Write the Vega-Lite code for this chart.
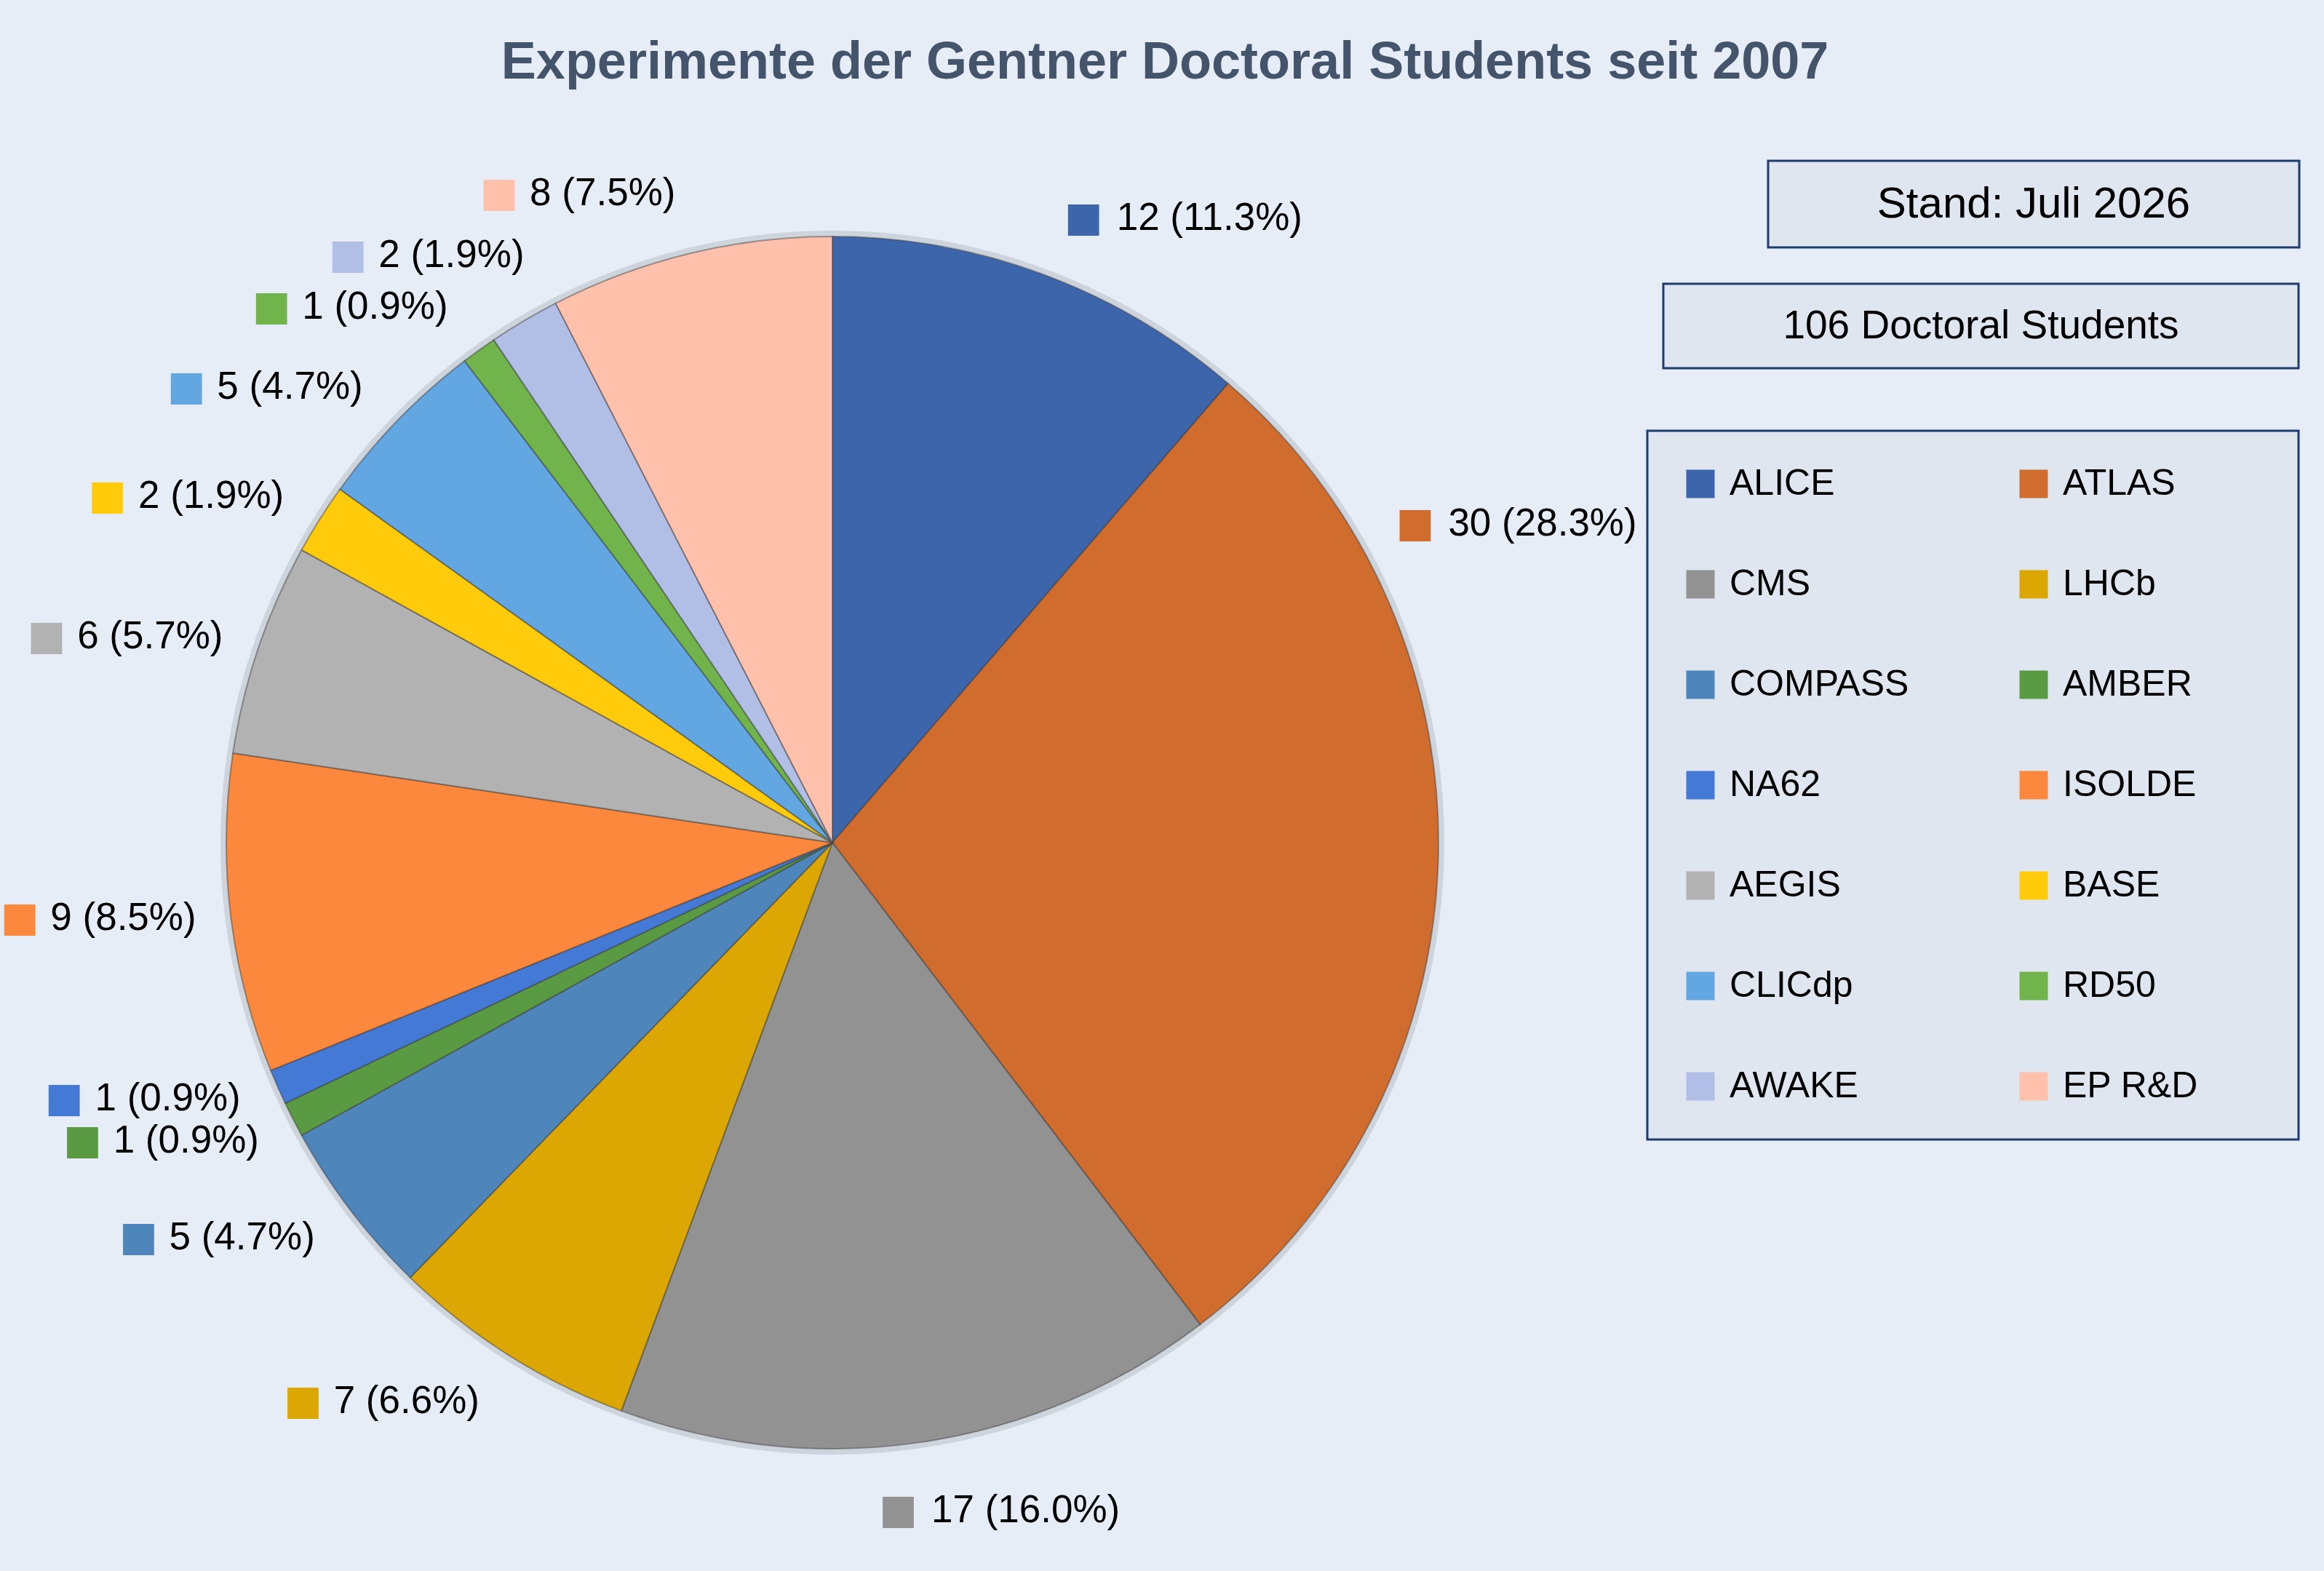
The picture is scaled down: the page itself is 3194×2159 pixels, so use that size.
{
  "$schema": "https://vega.github.io/schema/vega-lite/v6.json",
  "background": "#E6EDF7",
  "padding": {"left": 0, "top": 49, "right": 33, "bottom": 66},
  "bounds": "flush",
  "spacing": 0,
  "title": {
    "text": "Experimente der Gentner Doctoral Students seit 2007",
    "font": "Liberation Sans",
    "fontSize": 72,
    "fontWeight": "bold",
    "color": "#44546A",
    "anchor": "middle",
    "baseline": "alphabetic",
    "offset": 40,
    "dx": 20
  },
  "config": {
    "view": {"stroke": null},
    "font": "Liberation Sans",
    "legend": {"strokeWidth": 3}
  },
  "datasets": {
    "experiments": [
      {"exp": "ALICE", "n": 12},
      {"exp": "ATLAS", "n": 30},
      {"exp": "CMS", "n": 17},
      {"exp": "LHCb", "n": 7},
      {"exp": "COMPASS", "n": 5},
      {"exp": "AMBER", "n": 1},
      {"exp": "NA62", "n": 1},
      {"exp": "ISOLDE", "n": 9},
      {"exp": "AEGIS", "n": 6},
      {"exp": "BASE", "n": 2},
      {"exp": "CLICdp", "n": 5},
      {"exp": "RD50", "n": 1},
      {"exp": "AWAKE", "n": 2},
      {"exp": "EP R&D", "n": 8}
    ]
  },
  "hconcat": [
    {
      "width": 2284,
      "height": 1874,
      "data": {"name": "experiments"},
      "transform": [
        {"window": [{"op": "row_number", "as": "idx"}]},
        {"joinaggregate": [{"op": "sum", "field": "n", "as": "total"}]},
        {"calculate": "datum.n + ' (' + format(datum.n / datum.total, '.1%') + ')'", "as": "label"}
      ],
      "layer": [
        {
          "transform": [{"aggregate": [{"op": "sum", "field": "n", "as": "n"}]}],
          "mark": {"type": "arc", "outerRadius": 841, "fill": "#7a7a7a", "opacity": 0.22},
          "encoding": {"theta": {"field": "n", "type": "quantitative"}}
        },
        {
          "mark": {"type": "arc", "outerRadius": 833, "stroke": "#3a3a3a", "strokeOpacity": 0.45, "strokeWidth": 2},
          "encoding": {
            "theta": {"field": "n", "type": "quantitative", "stack": true},
            "order": {"field": "idx", "type": "quantitative"},
            "color": {
              "field": "exp",
              "type": "nominal",
              "scale": {
                "domain": ["ALICE", "ATLAS", "CMS", "LHCb", "COMPASS", "AMBER", "NA62", "ISOLDE", "AEGIS", "BASE", "CLICdp", "RD50", "AWAKE", "EP R&D"],
                "range": ["#3D65AC", "#D06C2E", "#929292", "#DDA703", "#4E86BC", "#5A9A42", "#4479D6", "#FB883C", "#B2B2B2", "#FFCB0B", "#62A6E2", "#70B44B", "#B1BFE6", "#FFC1AC"]
              },
              "legend": {
                "title": ".",
                "titleOrient": "right",
                "titleColor": "#DFE6EF",
                "titleFontSize": 6,
                "titlePadding": 88,
                "orient": "none",
                "legendX": 2262,
                "legendY": 371,
                "direction": "horizontal",
                "columns": 2,
                "symbolType": "square",
                "symbolSize": 1521,
                "symbolStrokeWidth": 0,
                "labelFont": "Liberation Sans",
                "labelFontSize": 50,
                "labelColor": "#000000",
                "labelOffset": 15,
                "labelLimit": 1000,
                "rowPadding": 88,
                "columnPadding": 146,
                "padding": 48,
                "fillColor": "#DFE6EF",
                "strokeColor": "#1F3A6E"
              }
            }
          }
        },
        {
          "mark": {
            "type": "text",
            "text": "■",
            "font": "DejaVu Sans",
            "fontSize": 56,
            "radius": 880,
            "baseline": "middle",
            "align": {"expr": "datum.n_start + datum.n_end < datum.total ? 'left' : 'right'"},
            "dx": {"expr": "(datum.n_start+datum.n_end<datum.total?0:-216)+(880+40*cos(((PI*(datum.n_start+datum.n_end)/datum.total)>1.05&&(PI*(datum.n_start+datum.n_end)/datum.total)<2.1?1.056:(PI*(datum.n_start+datum.n_end)/datum.total)>2.9&&(PI*(datum.n_start+datum.n_end)/datum.total)<3.05?3.072:(PI*(datum.n_start+datum.n_end)/datum.total)>4.23&&(PI*(datum.n_start+datum.n_end)/datum.total)<4.245?4.2322:(PI*(datum.n_start+datum.n_end)/datum.total)>4.29&&(PI*(datum.n_start+datum.n_end)/datum.total)<4.305?4.3034:(PI*(datum.n_start+datum.n_end)/datum.total)>5.72&&(PI*(datum.n_start+datum.n_end)/datum.total)<5.78?5.8:(PI*(datum.n_start+datum.n_end)/datum.total)))*cos(((PI*(datum.n_start+datum.n_end)/datum.total)>1.05&&(PI*(datum.n_start+datum.n_end)/datum.total)<2.1?1.056:(PI*(datum.n_start+datum.n_end)/datum.total)>2.9&&(PI*(datum.n_start+datum.n_end)/datum.total)<3.05?3.072:(PI*(datum.n_start+datum.n_end)/datum.total)>4.23&&(PI*(datum.n_start+datum.n_end)/datum.total)<4.245?4.2322:(PI*(datum.n_start+datum.n_end)/datum.total)>4.29&&(PI*(datum.n_start+datum.n_end)/datum.total)<4.305?4.3034:(PI*(datum.n_start+datum.n_end)/datum.total)>5.72&&(PI*(datum.n_start+datum.n_end)/datum.total)<5.78?5.8:(PI*(datum.n_start+datum.n_end)/datum.total))))*sin(((PI*(datum.n_start+datum.n_end)/datum.total)>1.05&&(PI*(datum.n_start+datum.n_end)/datum.total)<2.1?1.056:(PI*(datum.n_start+datum.n_end)/datum.total)>2.9&&(PI*(datum.n_start+datum.n_end)/datum.total)<3.05?3.072:(PI*(datum.n_start+datum.n_end)/datum.total)>4.23&&(PI*(datum.n_start+datum.n_end)/datum.total)<4.245?4.2322:(PI*(datum.n_start+datum.n_end)/datum.total)>4.29&&(PI*(datum.n_start+datum.n_end)/datum.total)<4.305?4.3034:(PI*(datum.n_start+datum.n_end)/datum.total)>5.72&&(PI*(datum.n_start+datum.n_end)/datum.total)<5.78?5.8:(PI*(datum.n_start+datum.n_end)/datum.total)))-880*sin(PI*(datum.n_start+datum.n_end)/datum.total)"},
            "dy": {"expr": "880*cos(PI*(datum.n_start+datum.n_end)/datum.total)-(880+40*cos(((PI*(datum.n_start+datum.n_end)/datum.total)>1.05&&(PI*(datum.n_start+datum.n_end)/datum.total)<2.1?1.056:(PI*(datum.n_start+datum.n_end)/datum.total)>2.9&&(PI*(datum.n_start+datum.n_end)/datum.total)<3.05?3.072:(PI*(datum.n_start+datum.n_end)/datum.total)>4.23&&(PI*(datum.n_start+datum.n_end)/datum.total)<4.245?4.2322:(PI*(datum.n_start+datum.n_end)/datum.total)>4.29&&(PI*(datum.n_start+datum.n_end)/datum.total)<4.305?4.3034:(PI*(datum.n_start+datum.n_end)/datum.total)>5.72&&(PI*(datum.n_start+datum.n_end)/datum.total)<5.78?5.8:(PI*(datum.n_start+datum.n_end)/datum.total)))*cos(((PI*(datum.n_start+datum.n_end)/datum.total)>1.05&&(PI*(datum.n_start+datum.n_end)/datum.total)<2.1?1.056:(PI*(datum.n_start+datum.n_end)/datum.total)>2.9&&(PI*(datum.n_start+datum.n_end)/datum.total)<3.05?3.072:(PI*(datum.n_start+datum.n_end)/datum.total)>4.23&&(PI*(datum.n_start+datum.n_end)/datum.total)<4.245?4.2322:(PI*(datum.n_start+datum.n_end)/datum.total)>4.29&&(PI*(datum.n_start+datum.n_end)/datum.total)<4.305?4.3034:(PI*(datum.n_start+datum.n_end)/datum.total)>5.72&&(PI*(datum.n_start+datum.n_end)/datum.total)<5.78?5.8:(PI*(datum.n_start+datum.n_end)/datum.total))))*cos(((PI*(datum.n_start+datum.n_end)/datum.total)>1.05&&(PI*(datum.n_start+datum.n_end)/datum.total)<2.1?1.056:(PI*(datum.n_start+datum.n_end)/datum.total)>2.9&&(PI*(datum.n_start+datum.n_end)/datum.total)<3.05?3.072:(PI*(datum.n_start+datum.n_end)/datum.total)>4.23&&(PI*(datum.n_start+datum.n_end)/datum.total)<4.245?4.2322:(PI*(datum.n_start+datum.n_end)/datum.total)>4.29&&(PI*(datum.n_start+datum.n_end)/datum.total)<4.305?4.3034:(PI*(datum.n_start+datum.n_end)/datum.total)>5.72&&(PI*(datum.n_start+datum.n_end)/datum.total)<5.78?5.8:(PI*(datum.n_start+datum.n_end)/datum.total)))"}
          },
          "encoding": {
            "theta": {"field": "n", "type": "quantitative", "stack": true},
            "order": {"field": "idx", "type": "quantitative"},
            "color": {"field": "exp", "type": "nominal"}
          }
        },
        {
          "mark": {
            "type": "text",
            "font": "Liberation Sans",
            "fontSize": 53,
            "color": "#000000",
            "radius": 880,
            "baseline": "middle",
            "align": {"expr": "datum.n_start + datum.n_end < datum.total ? 'left' : 'right'"},
            "dx": {"expr": "(datum.n_start+datum.n_end<datum.total?72:0)+(880+40*cos(((PI*(datum.n_start+datum.n_end)/datum.total)>1.05&&(PI*(datum.n_start+datum.n_end)/datum.total)<2.1?1.056:(PI*(datum.n_start+datum.n_end)/datum.total)>2.9&&(PI*(datum.n_start+datum.n_end)/datum.total)<3.05?3.072:(PI*(datum.n_start+datum.n_end)/datum.total)>4.23&&(PI*(datum.n_start+datum.n_end)/datum.total)<4.245?4.2322:(PI*(datum.n_start+datum.n_end)/datum.total)>4.29&&(PI*(datum.n_start+datum.n_end)/datum.total)<4.305?4.3034:(PI*(datum.n_start+datum.n_end)/datum.total)>5.72&&(PI*(datum.n_start+datum.n_end)/datum.total)<5.78?5.8:(PI*(datum.n_start+datum.n_end)/datum.total)))*cos(((PI*(datum.n_start+datum.n_end)/datum.total)>1.05&&(PI*(datum.n_start+datum.n_end)/datum.total)<2.1?1.056:(PI*(datum.n_start+datum.n_end)/datum.total)>2.9&&(PI*(datum.n_start+datum.n_end)/datum.total)<3.05?3.072:(PI*(datum.n_start+datum.n_end)/datum.total)>4.23&&(PI*(datum.n_start+datum.n_end)/datum.total)<4.245?4.2322:(PI*(datum.n_start+datum.n_end)/datum.total)>4.29&&(PI*(datum.n_start+datum.n_end)/datum.total)<4.305?4.3034:(PI*(datum.n_start+datum.n_end)/datum.total)>5.72&&(PI*(datum.n_start+datum.n_end)/datum.total)<5.78?5.8:(PI*(datum.n_start+datum.n_end)/datum.total))))*sin(((PI*(datum.n_start+datum.n_end)/datum.total)>1.05&&(PI*(datum.n_start+datum.n_end)/datum.total)<2.1?1.056:(PI*(datum.n_start+datum.n_end)/datum.total)>2.9&&(PI*(datum.n_start+datum.n_end)/datum.total)<3.05?3.072:(PI*(datum.n_start+datum.n_end)/datum.total)>4.23&&(PI*(datum.n_start+datum.n_end)/datum.total)<4.245?4.2322:(PI*(datum.n_start+datum.n_end)/datum.total)>4.29&&(PI*(datum.n_start+datum.n_end)/datum.total)<4.305?4.3034:(PI*(datum.n_start+datum.n_end)/datum.total)>5.72&&(PI*(datum.n_start+datum.n_end)/datum.total)<5.78?5.8:(PI*(datum.n_start+datum.n_end)/datum.total)))-880*sin(PI*(datum.n_start+datum.n_end)/datum.total)"},
            "dy": {"expr": "880*cos(PI*(datum.n_start+datum.n_end)/datum.total)-(880+40*cos(((PI*(datum.n_start+datum.n_end)/datum.total)>1.05&&(PI*(datum.n_start+datum.n_end)/datum.total)<2.1?1.056:(PI*(datum.n_start+datum.n_end)/datum.total)>2.9&&(PI*(datum.n_start+datum.n_end)/datum.total)<3.05?3.072:(PI*(datum.n_start+datum.n_end)/datum.total)>4.23&&(PI*(datum.n_start+datum.n_end)/datum.total)<4.245?4.2322:(PI*(datum.n_start+datum.n_end)/datum.total)>4.29&&(PI*(datum.n_start+datum.n_end)/datum.total)<4.305?4.3034:(PI*(datum.n_start+datum.n_end)/datum.total)>5.72&&(PI*(datum.n_start+datum.n_end)/datum.total)<5.78?5.8:(PI*(datum.n_start+datum.n_end)/datum.total)))*cos(((PI*(datum.n_start+datum.n_end)/datum.total)>1.05&&(PI*(datum.n_start+datum.n_end)/datum.total)<2.1?1.056:(PI*(datum.n_start+datum.n_end)/datum.total)>2.9&&(PI*(datum.n_start+datum.n_end)/datum.total)<3.05?3.072:(PI*(datum.n_start+datum.n_end)/datum.total)>4.23&&(PI*(datum.n_start+datum.n_end)/datum.total)<4.245?4.2322:(PI*(datum.n_start+datum.n_end)/datum.total)>4.29&&(PI*(datum.n_start+datum.n_end)/datum.total)<4.305?4.3034:(PI*(datum.n_start+datum.n_end)/datum.total)>5.72&&(PI*(datum.n_start+datum.n_end)/datum.total)<5.78?5.8:(PI*(datum.n_start+datum.n_end)/datum.total))))*cos(((PI*(datum.n_start+datum.n_end)/datum.total)>1.05&&(PI*(datum.n_start+datum.n_end)/datum.total)<2.1?1.056:(PI*(datum.n_start+datum.n_end)/datum.total)>2.9&&(PI*(datum.n_start+datum.n_end)/datum.total)<3.05?3.072:(PI*(datum.n_start+datum.n_end)/datum.total)>4.23&&(PI*(datum.n_start+datum.n_end)/datum.total)<4.245?4.2322:(PI*(datum.n_start+datum.n_end)/datum.total)>4.29&&(PI*(datum.n_start+datum.n_end)/datum.total)<4.305?4.3034:(PI*(datum.n_start+datum.n_end)/datum.total)>5.72&&(PI*(datum.n_start+datum.n_end)/datum.total)<5.78?5.8:(PI*(datum.n_start+datum.n_end)/datum.total)))"}
          },
          "encoding": {
            "theta": {"field": "n", "type": "quantitative", "stack": true},
            "order": {"field": "idx", "type": "quantitative"},
            "text": {"field": "label", "type": "nominal"}
          }
        }
      ]
    },
    {
      "vconcat": [
        {
          "hconcat": [
            {
              "width": 122,
              "height": 119,
              "data": {"values": [{}]},
              "mark": {"type": "point", "opacity": 0},
              "encoding": {}
            },
            {
              "width": 730,
              "height": 119,
              "view": {"fill": "#DFE6EF", "stroke": "#1F3A6E", "strokeWidth": 3},
              "data": {"values": [{"note": "Stand: Juli 2026"}]},
              "mark": {"type": "text", "font": "Liberation Sans", "fontSize": 60, "color": "#000000"},
              "encoding": {"text": {"field": "note", "type": "nominal"}}
            }
          ],
          "spacing": 20
        },
        {
          "width": 873,
          "height": 116,
          "view": {"fill": "#DFE6EF", "stroke": "#1F3A6E", "strokeWidth": 3},
          "data": {"values": [{"note": "106 Doctoral Students"}]},
          "mark": {"type": "text", "font": "Liberation Sans", "fontSize": 55, "color": "#000000"},
          "encoding": {"text": {"field": "note", "type": "nominal"}}
        }
      ],
      "spacing": 46
    }
  ]
}
